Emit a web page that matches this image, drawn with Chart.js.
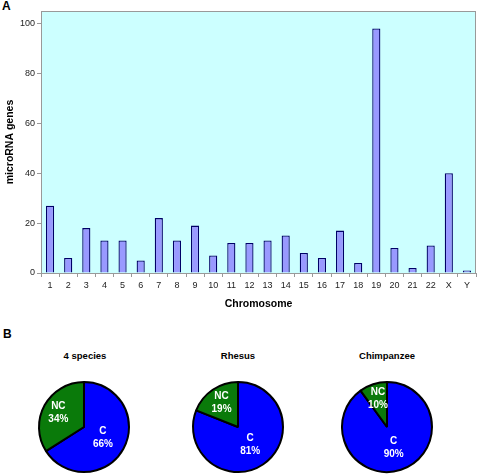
<!DOCTYPE html>
<html>
<head>
<meta charset="utf-8">
<script src="https://cdn.jsdelivr.net/npm/chart.js@4/dist/chart.umd.min.js"></script>
<style>
  body { margin: 0; background: #fff; font-family: "Liberation Sans", Arial, sans-serif; }
  #wrap { position: relative; width: 478px; height: 474px; overflow: hidden; }
  .panel { position: absolute; font-weight: bold; font-size: 12px; color: #000; }
  .pie-title { position: absolute; font-weight: bold; font-size: 9.5px; color: #000; width: 120px; text-align: center; }
  canvas { position: absolute; }
</style>
</head>
<body>
<div id="wrap">
  <div class="panel" style="left:2px; top:-1px;">A</div>
  <div class="panel" style="left:3px; top:327px;">B</div>
  <canvas id="bar-chart" width="478" height="320" style="left:0; top:0;"></canvas>

  <div class="pie-title" style="left:25px; top:350px;">4 species</div>
  <div class="pie-title" style="left:178px; top:350px;">Rhesus</div>
  <div class="pie-title" style="left:327px; top:350px;">Chimpanzee</div>
  <canvas id="pie-0" width="100" height="100" style="left:34px; top:377px;"></canvas>
  <canvas id="pie-1" width="100" height="100" style="left:188px; top:377px;"></canvas>
  <canvas id="pie-2" width="100" height="100" style="left:337px; top:377px;"></canvas>
</div>

<script>
// data
const chromosomes = ["1", "2", "3", "4", "5", "6", "7", "8", "9", "10", "11", "12",
  "13", "14", "15", "16", "17", "18", "19", "20", "21", "22", "X", "Y"];
const mirnaGenes = [27, 6, 18, 13, 13, 5, 22, 13, 19, 7, 12, 12,
  13, 15, 8, 6, 17, 4, 98, 10, 2, 11, 40, 1];
const yTicks = [0, 20, 40, 60, 80, 100];

const pieGroups = ["4 species", "Rhesus", "Chimpanzee"];
const pieLabels = ["C", "NC"];
const conservedPct = [66, 81, 90];
const nonConservedPct = [34, 19, 10];

const labelFont = "'Liberation Sans', Arial, sans-serif";

// plot background + frame
const plotFrame = {
  id: 'plotFrame',
  beforeDatasetsDraw(chart) {
    const { ctx, chartArea: a } = chart;
    ctx.save();
    ctx.fillStyle = '#CCFFFF';
    ctx.fillRect(a.left, a.top, a.right - a.left, a.bottom - a.top);
    ctx.strokeStyle = '#999999';
    ctx.lineWidth = 1;
    ctx.strokeRect(a.left + 0.5, a.top + 0.5, a.right - a.left - 1, a.bottom - a.top);
    ctx.restore();
  }
};

//bar chart
const barCanvas = document.getElementById('bar-chart');

new Chart(barCanvas, {
  type: 'bar',
  data: {
    labels: chromosomes,
    datasets: [{
      data: mirnaGenes,
      backgroundColor: '#9999FF',
      borderColor: '#000066',
      borderWidth: 1.3,
      barPercentage: 0.45,
      categoryPercentage: 1
    }]
  },
  options: {
    responsive: false,
    devicePixelRatio: 1,
    animation: false,
    layout: { padding: { top: 11, right: 2, left: 0, bottom: 0 } },
    scales: {
      x: {
        grid: { drawOnChartArea: false, tickLength: 4, color: '#999999' },
        border: { color: '#999999' },
        ticks: { color: '#222', padding: 3, font: { family: labelFont, size: 9 }, maxRotation: 0, autoSkip: false },
        title: { display: true, text: 'Chromosome', color: '#000', padding: { top: 4, bottom: 10 },
          font: { family: labelFont, size: 10.5, weight: 'bold' } },
        afterFit: scale => { scale.height = 47; }
      },
      y: {
        min: 0,
        max: 105,
        grid: { drawOnChartArea: false, tickLength: 4, color: '#999999' },
        border: { color: '#999999' },
        ticks: { color: '#222', padding: 2, font: { family: labelFont, size: 9 } },
        afterBuildTicks: scale => { scale.ticks = yTicks.map(v => ({ value: v })); },
        title: { display: true, text: 'microRNA genes', color: '#000', padding: 4,
          font: { family: labelFont, size: 10.5, weight: 'bold' } },
        afterFit: scale => { scale.width = 41; }
      }
    },
    plugins: {
      legend: { display: false },
      tooltip: { enabled: false }
    }
  },
  plugins: [plotFrame]
});

//pie charts
// labels drawn inside each slice
const labelDist = [0.48, 0.65];
const sliceLabels = {
  id: 'sliceLabels',
  afterDatasetsDraw(chart) {
    const { ctx } = chart;
    const meta = chart.getDatasetMeta(0);
    ctx.save();
    ctx.fillStyle = '#ffffff';
    ctx.font = 'bold 10px ' + labelFont;
    ctx.textAlign = 'center';
    ctx.textBaseline = 'middle';
    meta.data.forEach((arc, i) => {
      const p = arc.getProps(['x', 'y', 'startAngle', 'endAngle', 'outerRadius'], true);
      const mid = (p.startAngle + p.endAngle) / 2;
      const r = p.outerRadius * labelDist[i];
      const x = p.x + Math.cos(mid) * r;
      const y = p.y + Math.sin(mid) * r;
      ctx.fillText(chart.data.labels[i], x, y - 6.5);
      ctx.fillText(chart.data.datasets[0].data[i] + '%', x, y + 6.5);
    });
    ctx.restore();
  }
};

pieGroups.forEach((group, i) => {
  new Chart(document.getElementById('pie-' + i), {
    type: 'pie',
    data: {
      labels: pieLabels,
      datasets: [{
        label: group,
        data: [conservedPct[i], nonConservedPct[i]],
        backgroundColor: ['#0000FF', '#0A7A0A'],
        borderColor: '#000000',
        borderWidth: 2
      }]
    },
    options: {
      responsive: false,
      devicePixelRatio: 1,
      animation: false,
      radius: 45,
      plugins: {
        legend: { display: false },
        tooltip: { enabled: false }
      }
    },
    plugins: [sliceLabels]
  });
});
</script>
</body>
</html>
